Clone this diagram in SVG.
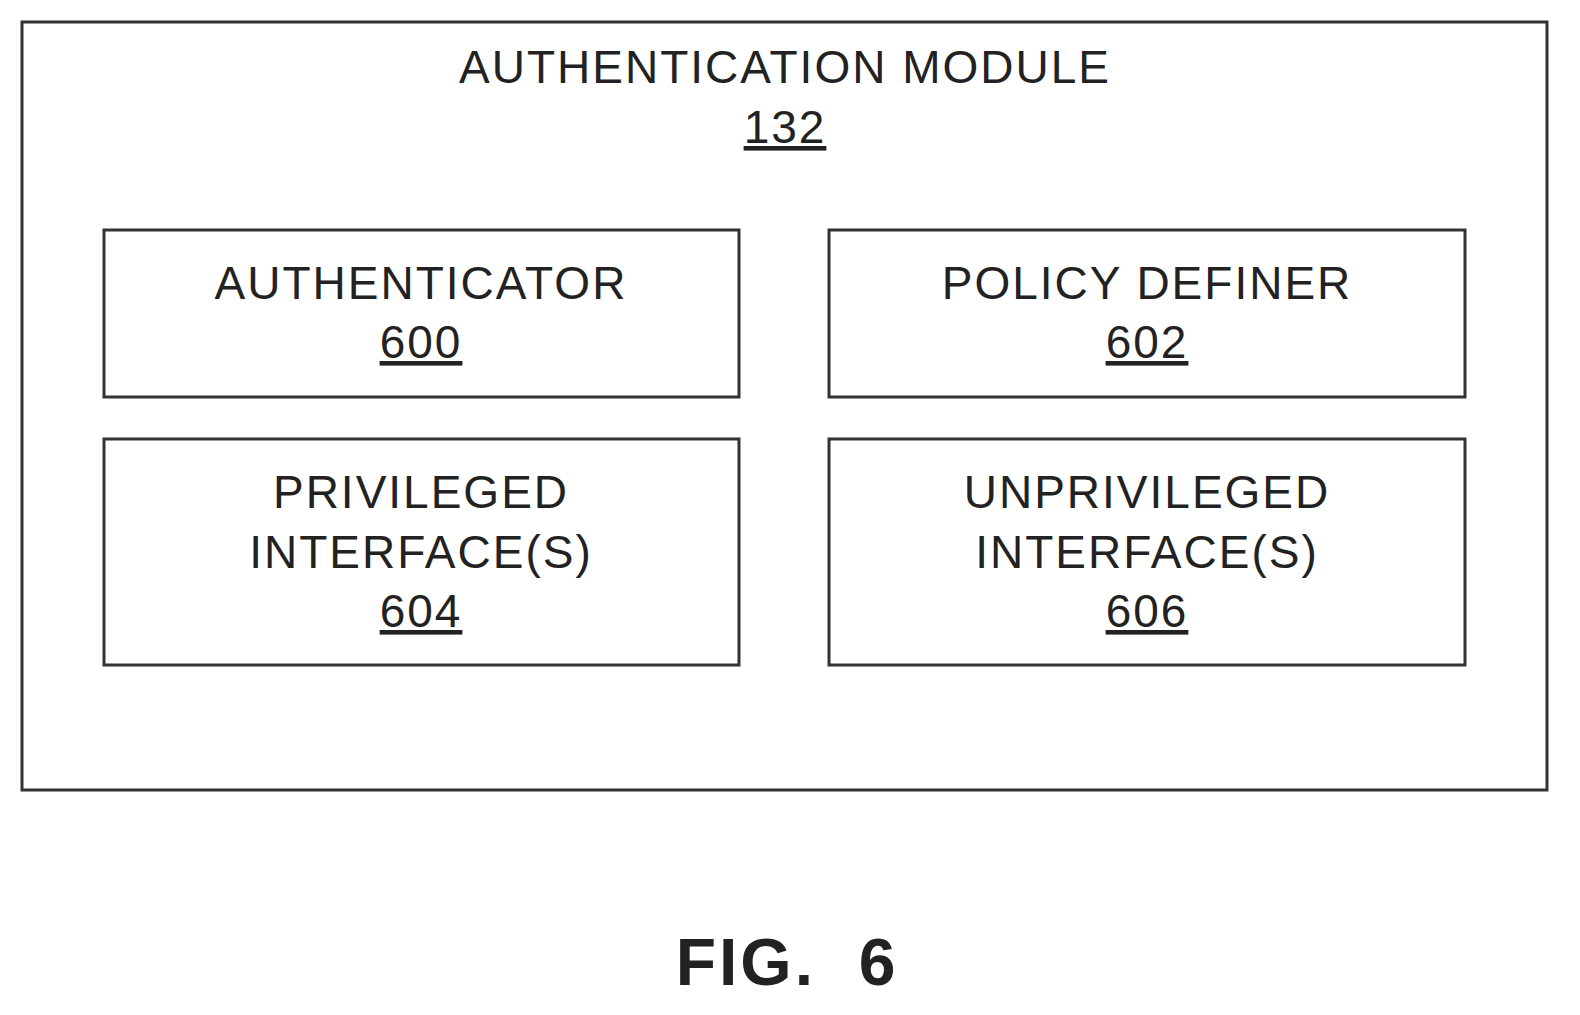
<svg xmlns="http://www.w3.org/2000/svg" width="1580" height="1015" viewBox="0 0 1580 1015">
<style>
.b{fill:none;stroke:#333;stroke-width:3}
.t{font-family:"Liberation Sans",Arial,sans-serif;font-size:46px;fill:#222;text-anchor:middle;letter-spacing:2px}
.u{text-decoration:underline}
</style>
<rect width="1580" height="1015" fill="#fff"/>
<g id="module"><rect class="b" x="22" y="22" width="1525" height="768"/>
<text class="t" x="785" y="83">AUTHENTICATION MODULE</text>
<text class="t u" x="785" y="143">132</text></g>
<g id="n600"><rect class="b" x="104" y="230" width="635" height="167"/>
<text class="t" x="421" y="299">AUTHENTICATOR</text><text class="t u" x="421" y="358">600</text></g>
<g id="n602"><rect class="b" x="829" y="230" width="636" height="167"/>
<text class="t" x="1147" y="299">POLICY DEFINER</text><text class="t u" x="1147" y="358">602</text></g>
<g id="n604"><rect class="b" x="104" y="439" width="635" height="226"/>
<text class="t" x="421" y="508">PRIVILEGED</text><text class="t" x="421" y="568">INTERFACE(S)</text><text class="t u" x="421" y="627">604</text></g>
<g id="n606"><rect class="b" x="829" y="439" width="636" height="226"/>
<text class="t" x="1147" y="508">UNPRIVILEGED</text><text class="t" x="1147" y="568">INTERFACE(S)</text><text class="t u" x="1147" y="627">606</text></g>
<g id="connectors"></g>
<text x="787" y="985" xml:space="preserve" style="font-family:'Liberation Sans',Arial,sans-serif;font-size:66px;font-weight:bold;fill:#222;text-anchor:middle;letter-spacing:3px">FIG.  6</text>
</svg>
